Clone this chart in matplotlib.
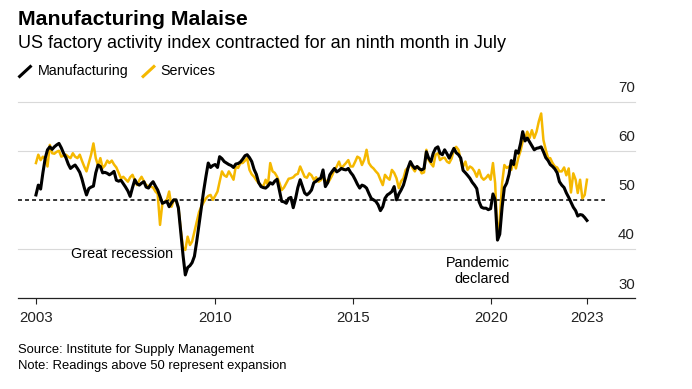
import matplotlib
matplotlib.use("Agg")
import matplotlib.pyplot as plt
from matplotlib.lines import Line2D
import pandas as pd

plt.rcParams["font.family"] = ["Liberation Sans", "DejaVu Sans"]

# Indices ISM mensais, jul/2003 a jul/2023
manufacturing = [
    51.0, 53.0, 52.2, 55.5, 58.5, 60.2,                                # 2003
    60.8, 60.3, 60.8, 61.2, 61.5, 60.6, 59.5, 58.6, 57.3, 56.4, 56.8, 57.1,  # 2004
    56.4, 55.6, 54.3, 52.5, 51.0, 52.3, 52.6, 52.8, 55.5, 57.1, 56.8, 55.5,  # 2005
    55.6, 55.4, 55.1, 55.4, 55.8, 54.0, 53.8, 54.0, 53.3, 52.6, 51.8, 50.7,  # 2006
    52.5, 54.1, 53.3, 53.0, 53.4, 53.7, 52.6, 52.4, 53.2, 53.7, 52.8, 52.0,  # 2007
    50.7, 49.3, 49.5, 49.7, 48.6, 49.4, 50.0, 50.0, 48.3, 43.5, 38.7, 34.7,  # 2008
    36.2, 36.6, 37.2, 38.5, 41.5, 45.0, 48.5, 51.8, 54.8, 57.5, 56.6, 57.0,  # 2009
    57.2, 56.6, 58.8, 58.4, 57.8, 57.5, 57.2, 57.0, 56.6, 57.3, 57.4, 57.7,  # 2010
    58.3, 59.0, 59.2, 58.6, 57.8, 56.2, 55.2, 53.5, 52.7, 52.5, 52.4, 52.8,  # 2011
    53.5, 53.2, 53.8, 54.2, 52.0, 49.7, 49.6, 49.3, 50.3, 50.5, 48.4, 50.2,  # 2012
    52.5, 54.1, 52.8, 51.4, 51.0, 51.4, 52.0, 53.5, 53.8, 54.2, 54.4, 56.1,  # 2013
    52.7, 53.5, 55.1, 55.8, 56.4, 55.7, 56.0, 56.4, 56.2, 56.1, 56.4, 55.6,  # 2014
    55.0, 54.1, 53.2, 52.4, 53.0, 52.8, 52.4, 51.3, 50.3, 50.0, 49.7, 49.0,  # 2015
    47.8, 48.6, 50.3, 51.0, 51.3, 51.7, 52.7, 50.0, 51.2, 52.0, 53.0, 54.6,  # 2016
    56.5, 57.8, 57.0, 56.4, 56.8, 56.3, 56.1, 56.4, 59.8, 58.5, 57.8, 59.5,  # 2017
    60.5, 60.8, 59.5, 59.2, 60.2, 59.4, 58.5, 59.5, 60.5, 59.6, 59.2, 58.5,  # 2018
    56.0, 55.5, 55.0, 54.4, 53.6, 53.0, 52.3, 49.6, 48.5, 48.3, 48.3, 48.0,  # 2019
    48.2, 51.2, 50.0, 41.8, 43.0, 48.5, 52.5, 53.4, 55.2, 58.0, 57.2, 60.0,  # 2020
    59.5, 61.5, 63.9, 62.0, 62.6, 61.8, 61.0, 60.2, 60.5, 60.6, 60.8, 59.8,  # 2021
    58.6, 58.0, 57.2, 56.8, 56.3, 55.5, 53.7, 53.0, 52.5, 51.4, 50.5, 49.5,  # 2022
    48.5, 47.8, 46.7, 47.0, 46.9, 46.4, 45.8,                          # 2023
]

services = [
    57.5, 59.2, 58.1, 58.8, 58.4, 56.8,                                # 2003
    61.2, 59.5, 59.4, 59.8, 60.0, 58.8, 59.0, 59.2, 58.8, 58.5, 59.5, 58.8,  # 2004
    58.5, 59.2, 58.0, 56.8, 55.8, 57.5, 59.2, 61.5, 58.5, 57.0, 58.5, 56.5,  # 2005
    57.0, 58.0, 57.5, 58.0, 57.2, 56.6, 55.5, 54.4, 54.7, 54.2, 53.7, 54.6,  # 2006
    55.1, 54.0, 53.0, 54.0, 54.7, 53.8, 53.0, 52.8, 52.7, 52.5, 51.7, 51.2,  # 2007
    44.9, 49.3, 49.6, 50.0, 51.7, 48.6, 50.0, 49.8, 48.5, 44.0, 40.2, 39.8,  # 2008
    42.5, 40.8, 41.5, 43.5, 45.5, 47.5, 48.6, 49.5, 50.3, 50.8, 51.0, 50.0,  # 2009
    50.8, 51.7, 53.7, 55.8, 55.0, 54.7, 55.8, 55.0, 54.1, 56.8, 56.5, 57.5,  # 2010
    57.5, 58.0, 58.5, 56.1, 55.2, 54.7, 54.0, 53.4, 53.0, 52.7, 54.1, 53.0,  # 2011
    57.5, 55.8, 55.5, 54.7, 53.5, 52.0, 52.5, 53.4, 54.3, 54.4, 54.6, 55.1,  # 2012
    55.3, 56.8, 55.8, 54.7, 54.5, 55.4, 55.0, 54.1, 54.6, 53.7, 54.0, 54.7,  # 2013
    54.0, 53.4, 54.1, 55.0, 56.1, 56.8, 57.8, 56.4, 57.0, 57.5, 58.1, 56.8,  # 2014
    56.8, 57.8, 58.8, 58.5, 57.1, 58.2, 60.2, 57.5, 56.8, 56.4, 55.8, 55.3,  # 2015
    54.1, 53.0, 55.1, 54.5, 54.1, 56.1, 55.5, 54.4, 52.4, 53.8, 54.4, 56.1,  # 2016
    56.5, 57.5, 56.5, 55.8, 56.8, 56.5, 55.4, 55.6, 60.2, 58.1, 57.4, 56.8,  # 2017
    59.2, 59.5, 58.1, 58.5, 58.6, 57.8, 57.5, 58.4, 60.2, 60.8, 60.2, 58.0,  # 2018
    56.8, 57.8, 56.1, 56.8, 56.5, 55.8, 54.7, 56.1, 54.6, 54.1, 54.5, 55.1,  # 2019
    54.1, 57.5, 53.4, 42.0, 46.0, 53.4, 57.1, 56.5, 56.8, 56.1, 57.8, 56.4,  # 2020
    58.5, 60.0, 61.9, 62.5, 63.9, 62.6, 64.2, 62.6, 63.9, 66.0, 67.6, 62.2,  # 2021
    60.2, 58.5, 58.5, 57.5, 56.8, 56.6, 55.8, 55.8, 56.6, 55.0, 56.4, 51.5,  # 2022
    55.4, 54.1, 51.4, 54.1, 50.3, 51.0, 54.1,                          # 2023
]

months = pd.date_range("2003-07-01", periods=len(manufacturing), freq="MS")

tick_dates = pd.to_datetime(["2003-07-01", "2010-01-01", "2015-01-01", "2020-01-01", "2023-07-01"])
tick_labels = ["2003", "2010", "2015", "2020", "2023"]
y_ticks = [30, 40, 50, 60, 70]

YELLOW = "#F5B800"
W, H = 692, 389

fig = plt.figure(figsize=(W / 100, H / 100), dpi=100)
ax = fig.add_axes([18 / W, (H - 298) / H, (635 - 18) / W, (298 - 101.7) / H])

# Grade e linha de 50
for v in (40, 60, 70):
    ax.axhline(v, color="#d9d9d9", lw=0.8, zorder=0, clip_on=False)
ax.hlines(50, pd.Timestamp("2002-11-05"), pd.Timestamp("2024-02-24"),
          colors="black", lw=1.1, linestyles=(0, (2.6, 2.0)), zorder=1)

ax.plot(months, services, color=YELLOW, lw=1.8, zorder=2, solid_joinstyle="round")
ax.plot(months, manufacturing, color="black", lw=2.2, zorder=3, solid_joinstyle="round")

ax.set_xlim(pd.Timestamp("2002-11-05"), pd.Timestamp("2025-03-29"))
ax.set_ylim(30, 70)
ax.set_xticks(tick_dates)
ax.set_xticklabels(tick_labels)
ax.set_yticks([])
ax.tick_params(axis="x", length=4, width=0.8, pad=5, labelsize=10.8, color="#222222", labelcolor="#222222")
for s in ("top", "left", "right"):
    ax.spines[s].set_visible(False)
ax.spines["bottom"].set_color("#222222")
ax.spines["bottom"].set_linewidth(0.9)
ax.patch.set_visible(False)

for v in y_ticks:
    ax.annotate(str(v), xy=(1, v), xycoords=("axes fraction", "data"),
                xytext=(0, 6.8), textcoords="offset points",
                ha="right", va="baseline", fontsize=10.8, color="#222222")

# Anotacoes
ax.text(pd.Timestamp("2008-06-26"), 38.1, "Great recession", ha="right", va="baseline", fontsize=10.4)
ax.text(pd.Timestamp("2020-09-14"), 36.38, "Pandemic", ha="right", va="baseline", fontsize=10.4)
ax.text(pd.Timestamp("2020-09-14"), 33.12, "declared", ha="right", va="baseline", fontsize=10.4)

# Titulos
fig.text(18 / W, 1 - 25 / H, "Manufacturing Malaise", fontsize=15.3, fontweight="bold", va="baseline")
fig.text(18 / W, 1 - 48.5 / H, "US factory activity index contracted for an ninth month in July",
         fontsize=13, va="baseline")

# Legenda
ly0, ly1 = 1 - 77.5 / H, 1 - 65.5 / H
fig.add_artist(Line2D([18.5 / W, 31.5 / W], [ly0, ly1], transform=fig.transFigure,
                      color="black", lw=2.2, solid_capstyle="butt"))
fig.text(37.5 / W, 1 - 75.2 / H, "Manufacturing", fontsize=10.3, va="baseline")
fig.add_artist(Line2D([142 / W, 155 / W], [ly0, ly1], transform=fig.transFigure,
                      color=YELLOW, lw=2.2, solid_capstyle="butt"))
fig.text(160 / W, 1 - 75.2 / H, "Services", fontsize=10.3, va="baseline")

# Fonte
fig.text(18 / W, 1 - 353.5 / H, "Source: Institute for Supply Management", fontsize=9.4, va="baseline")
fig.text(18 / W, 1 - 368.5 / H, "Note: Readings above 50 represent expansion", fontsize=9.4, va="baseline")

fig.savefig("out.png", dpi=100)
